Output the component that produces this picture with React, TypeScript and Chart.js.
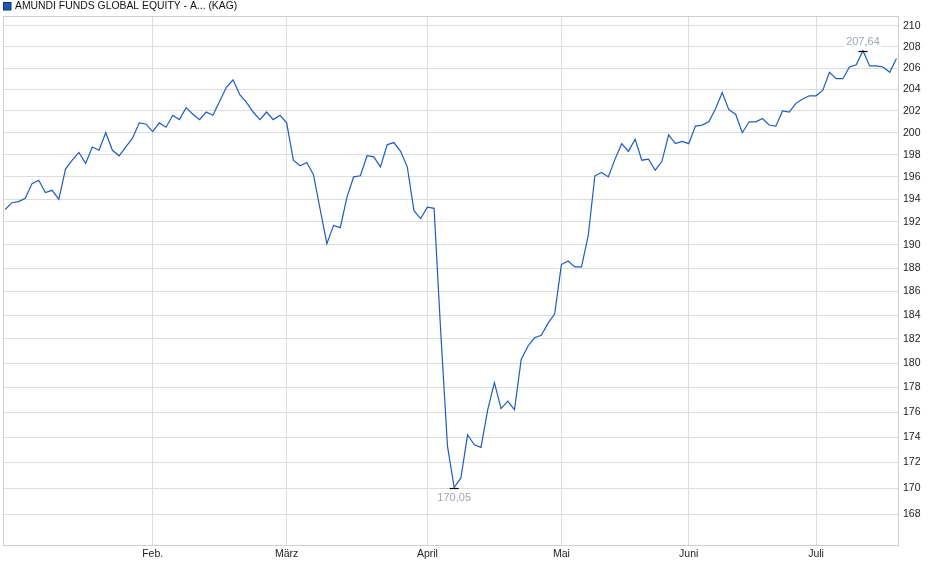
import { useEffect, useRef } from "react";
import { Chart, registerables, type ChartConfiguration, type Plugin } from "chart.js";

Chart.register(...registerables);

const SERIES_LABEL = "AMUNDI FUNDS GLOBAL EQUITY - A... (KAG)";

// one value per trading day, 2 Jan .. 21 Jul
const prices = [
  193.1, 193.7, 193.8, 194.1, 195.4, 195.7, 194.6, 194.8, 194.0, 196.7,
  197.5, 198.2, 197.2, 198.7, 198.4, 200.0, 198.4, 197.9, 198.7, 199.5,
  200.9, 200.8, 200.1, 200.9, 200.5, 201.6, 201.2, 202.3, 201.7, 201.2,
  201.9, 201.6, 202.9, 204.2, 204.9, 203.5, 202.8, 201.9, 201.2, 201.9,
  201.2, 201.6, 200.9, 197.5, 197.0, 197.3, 196.2, 193.1, 190.1, 191.7,
  191.5, 194.2, 196.0, 196.1, 197.9, 197.8, 196.9, 198.9, 199.1, 198.3,
  196.9, 193.0, 192.3, 193.3, 193.2, 182.5, 173.3, 170.05, 170.8, 174.2,
  173.4, 173.2, 176.2, 178.4, 176.3, 176.9, 176.2, 180.3, 181.4, 182.1,
  182.3, 183.3, 184.1, 188.3, 188.6, 188.1, 188.1, 190.8, 196.1, 196.4,
  196.0, 197.6, 199.0, 198.3, 199.4, 197.5, 197.6, 196.6, 197.4, 199.8,
  199.0, 199.2, 199.0, 200.6, 200.7, 201.0, 202.2, 203.7, 202.1, 201.7,
  200.0, 201.0, 201.0, 201.3, 200.7, 200.6, 202.0, 201.9, 202.7, 203.1,
  203.4, 203.4, 203.9, 205.6, 205.0, 205.0, 206.1, 206.3, 207.64, 206.2,
  206.2, 206.1, 205.6, 206.9,
];

// index of the first trading day of each month
const monthStarts = [22, 42, 63, 83, 102, 121];
const monthNames = ["Feb.", "März", "April", "Mai", "Juni", "Juli"];

const yTicks = [168, 170, 172, 174, 176, 178, 180, 182, 184, 186, 188, 190, 192, 194, 196, 198, 200, 202, 204, 206, 208, 210];

const LINE = "#1c5bc2";
const GRID = "#dcdcdc";
const FONT = "'Liberation Sans', Arial, sans-serif";

const fmt = (v: number) => v.toFixed(2).replace(".", ",");

const extras: Plugin = {
  id: "extras",
  beforeDatasetsDraw(chart) {
    const { ctx, chartArea: a } = chart;
    ctx.save();
    ctx.strokeStyle = "#cfcfcf";
    ctx.lineWidth = 1;
    ctx.strokeRect(a.left + 0.5, a.top + 0.5, a.right - a.left, a.bottom - a.top);
    ctx.restore();
  },
  afterDraw(chart) {
    const { ctx } = chart;
    const xs = chart.scales.x;
    const ys = chart.scales.y;
    ctx.save();

    // legend
    ctx.fillStyle = "#1d58b8";
    ctx.fillRect(3.5, 2.5, 7.5, 7.5);
    ctx.strokeStyle = "#0f3170";
    ctx.lineWidth = 1;
    ctx.strokeRect(3.5, 2.5, 7.5, 7.5);
    ctx.fillStyle = "#111";
    ctx.font = `10.4px ${FONT}`;
    ctx.textBaseline = "middle";
    ctx.textAlign = "left";
    ctx.fillText(SERIES_LABEL, 15, 6.5);

    // high / low markers
    let hi = 0;
    let lo = 0;
    prices.forEach((v, i) => {
      if (v > prices[hi]) hi = i;
      if (v < prices[lo]) lo = i;
    });
    const mark = (i: number, above: boolean) => {
      const px = xs.getPixelForValue(i);
      const py = ys.getPixelForValue(prices[i]);
      const txt = fmt(prices[i]);
      ctx.font = `11px ${FONT}`;
      const w = ctx.measureText(txt).width;
      const ty = above ? py - 8.5 : py + 10;
      ctx.fillStyle = "rgba(255,255,255,0.85)";
      ctx.fillRect(px - w / 2 - 2, ty - 6, w + 4, 12);
      ctx.fillStyle = "#9ea6b3";
      ctx.textAlign = "center";
      ctx.fillText(txt, px, ty);
      ctx.strokeStyle = "#000";
      ctx.lineWidth = 1.2;
      ctx.beginPath();
      ctx.moveTo(px - 4.5, Math.round(py) + 0.5);
      ctx.lineTo(px + 4.5, Math.round(py) + 0.5);
      ctx.stroke();
    };
    mark(hi, true);
    mark(lo, false);
    ctx.restore();
  },
};

export default function App() {
  const canvasRef = useRef<HTMLCanvasElement>(null);

  useEffect(() => {
    document.body.style.margin = "0";
    if (!canvasRef.current) return;

    const cfg: ChartConfiguration<"line"> = {
      type: "line",
      data: {
        datasets: [
          {
            label: SERIES_LABEL,
            data: prices.map((v, i) => ({ x: i, y: v })),
            borderColor: LINE,
            borderWidth: 1.2,
            pointRadius: 0,
            tension: 0,
            fill: false,
          },
        ],
      },
      options: {
        responsive: true,
        maintainAspectRatio: false,
        animation: false,
        layout: { padding: { left: 3, top: 16, right: 0, bottom: 0 } },
        plugins: { legend: { display: false }, tooltip: { enabled: false } },
        scales: {
          x: {
            type: "linear",
            min: -0.33,
            max: 133.23,
            afterBuildTicks: (s) => {
              s.ticks = monthStarts.map((v) => ({ value: v }));
            },
            afterFit: (s) => {
              s.height = 34;
            },
            grid: { color: GRID, drawTicks: false },
            border: { display: false },
            ticks: {
              color: "#222",
              font: { family: FONT, size: 10.5 },
              padding: 3,
              maxRotation: 0,
              autoSkip: false,
              callback: (v) => monthNames[monthStarts.indexOf(Number(v))] ?? "",
            },
          },
          y: {
            type: "logarithmic",
            position: "right",
            min: 165.64,
            max: 210.96,
            afterBuildTicks: (s) => {
              s.ticks = yTicks.map((v) => ({ value: v }));
            },
            afterFit: (s) => {
              s.width = 42;
            },
            grid: { color: GRID, drawTicks: false },
            border: { display: false },
            ticks: {
              color: "#222",
              font: { family: FONT, size: 10.5 },
              padding: 5,
              autoSkip: false,
              callback: (v) => String(v),
            },
          },
        },
      },
      plugins: [extras],
    };

    const chart = new Chart(canvasRef.current, cfg);
    return () => {
      chart.destroy();
    };
  }, []);

  return (
    <div style={{ position: "relative", width: 940, height: 579, background: "#fff" }}>
      <canvas ref={canvasRef} />
    </div>
  );
}
